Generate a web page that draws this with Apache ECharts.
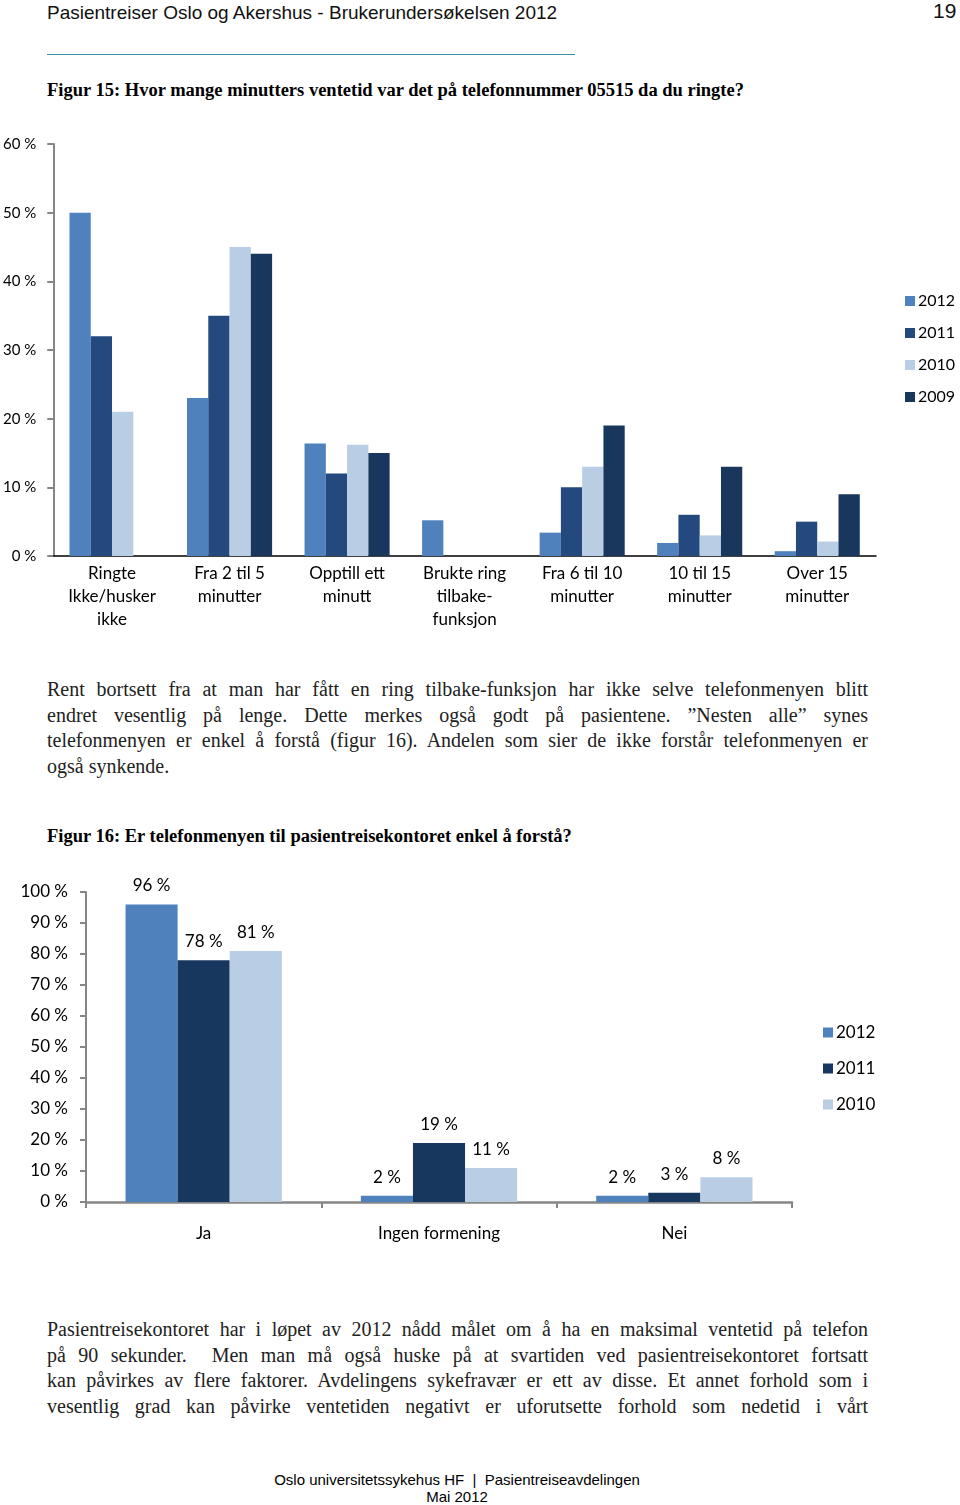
<!DOCTYPE html>
<html>
<head>
<meta charset="utf-8">
<script src="https://cdn.jsdelivr.net/npm/echarts@6/dist/echarts.min.js"></script>
<style>
  html, body { margin: 0; padding: 0; background: #fff; }
  body { width: 960px; height: 1505px; position: relative; overflow: hidden; }
  .abs { position: absolute; }
  .hdr { font-family: "Liberation Sans", Arial, sans-serif; font-size: 19px; color: #111; }
  .ftitle { font-family: "Liberation Serif", "Times New Roman", serif; font-weight: bold; font-size: 18.5px; color: #000; white-space: nowrap; }
  .para { font-family: "Liberation Serif", "Times New Roman", serif; font-size: 20px; color: #222; width: 821px; left: 47px; line-height: 25.5px; }
  .para div { text-align: justify; text-align-last: justify; white-space: nowrap; overflow: visible; }
  .para div.last { text-align-last: left; }
  .foot { font-family: "Liberation Sans", Arial, sans-serif; font-size: 15px; color: #000; text-align: center; width: 960px; left: -23px; }
</style>
</head>
<body>
<div class="abs hdr" style="left:47px; top:2px;">Pasientreiser Oslo og Akershus - Brukerundersøkelsen 2012</div>
<div class="abs hdr" style="left:933px; top:-1px; font-size:21px;">19</div>
<div class="abs" style="left:47px; top:54px; width:528px; height:1px; background:#3b8fa6;"></div>
<div class="abs ftitle" style="left:47px; top:80px;">Figur 15: Hvor mange minutters ventetid var det på telefonnummer 05515 da du ringte?</div>

<div id="c1" class="abs" style="left:0; top:130px; width:960px; height:510px;"></div>

<div class="abs para" style="top:677px;">
  <div>Rent bortsett fra at man har fått en ring tilbake-funksjon har ikke selve telefonmenyen blitt</div>
  <div>endret vesentlig på lenge. Dette merkes også godt på pasientene. ”Nesten alle” synes</div>
  <div>telefonmenyen er enkel å forstå (figur 16). Andelen som sier de ikke forstår telefonmenyen er</div>
  <div class="last">også synkende.</div>
</div>

<div class="abs ftitle" style="left:47px; top:826px;">Figur 16: Er telefonmenyen til pasientreisekontoret enkel å forstå?</div>

<div id="c2" class="abs" style="left:0; top:870px; width:960px; height:380px;"></div>

<div class="abs para" style="top:1317px;">
  <div>Pasientreisekontoret har i løpet av 2012 nådd målet om å ha en maksimal ventetid på telefon</div>
  <div>på 90 sekunder.&nbsp; Men man må også huske på at svartiden ved pasientreisekontoret fortsatt</div>
  <div>kan påvirkes av flere faktorer. Avdelingens sykefravær er ett av disse. Et annet forhold som i</div>
  <div>vesentlig grad kan påvirke ventetiden negativt er uforutsette forhold som nedetid i vårt</div>
</div>

<div class="abs foot" style="top:1471px;">Oslo universitetssykehus HF&nbsp; |&nbsp; Pasientreiseavdelingen</div>
<div class="abs foot" style="top:1488px;">Mai 2012</div>

<script>
// ---- Figure 15 data ----
var categories15 = ['Ringte\nIkke/husker\nikke', 'Fra 2 til 5\nminutter', 'Opptill ett\nminutt', 'Brukte ring\ntilbake-\nfunksjon', 'Fra 6 til 10\nminutter', '10 til 15\nminutter', 'Over 15\nminutter'];
var fig15_2012 = [50, 23, 16.4, 5.2, 3.4, 1.9, 0.7];
var fig15_2011 = [32, 35, 12, null, 10, 6, 5];
var fig15_2010 = [21, 45, 16.2, null, 13, 3, 2.1];
var fig15_2009 = [null, 44, 15, null, 19, 13, 9];
var ticks15 = ['0 %', '10 %', '20 %', '30 %', '40 %', '50 %', '60 %'];

// ---- Figure 16 data ----
var categories16 = ['Ja', 'Ingen formening', 'Nei'];
var fig16_2012 = [96, 2, 2];
var fig16_2011 = [78, 19, 3];
var fig16_2010 = [81, 11, 8];
var ticks16 = ['0 %', '10 %', '20 %', '30 %', '40 %', '50 %', '60 %', '70 %', '80 %', '90 %', '100 %'];

var FONT = 'Lato, "Open Sans", sans-serif';

var c1 = echarts.init(document.getElementById('c1'));
c1.setOption({
  animation: false,
  textStyle: { fontFamily: FONT },
  grid: { left: 51, right: 84, top: 14, bottom: 84, containLabel: false },
  legend: {
    orient: 'vertical', left: 905, top: 163, padding: 0,
    itemWidth: 10, itemHeight: 10, itemGap: 16,
    icon: 'rect',
    textStyle: { fontSize: 16, color: '#000', lineHeight: 16, fontFamily: FONT, padding: [0, 0, 0, -2] },
    data: ['2012', '2011', '2010', '2009']
  },
  xAxis: {
    type: 'category', data: categories15,
    axisLine: { lineStyle: { color: '#000', width: 1.5 } },
    axisTick: { show: false },
    axisLabel: { color: '#000', fontSize: 17, lineHeight: 23, margin: 6, interval: 0, fontFamily: FONT }
  },
  yAxis: {
    type: 'value', min: 0, max: 60, interval: 10,
    axisLine: { show: true, lineStyle: { color: '#868686', width: 2 } },
    axisTick: { show: true, length: 6, lineStyle: { color: '#868686', width: 2 } },
    splitLine: { show: false },
    axisLabel: { color: '#000', fontSize: 15, margin: 17, fontFamily: FONT,
      formatter: function (v) { return ticks15[Math.round(v / 10)]; } }
  },
  series: [
    { name: '2012', type: 'bar', data: fig15_2012, itemStyle: { color: '#4F81BD' }, barGap: '0%', barCategoryGap: '27.6%' },
    { name: '2011', type: 'bar', data: fig15_2011, itemStyle: { color: '#23497E' } },
    { name: '2010', type: 'bar', data: fig15_2010, itemStyle: { color: '#B9CDE5' } },
    { name: '2009', type: 'bar', data: fig15_2009, itemStyle: { color: '#19365D' } }
  ]
});

var c2 = echarts.init(document.getElementById('c2'));
var lbl = { show: true, position: 'top', distance: 10, color: '#000', fontSize: 17, fontFamily: FONT, formatter: '{c} %' };
c2.setOption({
  animation: false,
  textStyle: { fontFamily: FONT },
  grid: { left: 86, right: 168, top: 22, bottom: 48, containLabel: false },
  legend: {
    orient: 'vertical', left: 823, top: 154, padding: 0,
    itemWidth: 10, itemHeight: 10, itemGap: 19,
    icon: 'rect',
    textStyle: { fontSize: 17, color: '#000', lineHeight: 17, fontFamily: FONT, padding: [0, 0, 0, -2] },
    data: ['2012', '2011', '2010']
  },
  xAxis: {
    type: 'category', data: categories16,
    axisLine: { lineStyle: { color: '#868686', width: 2.5 } },
    axisTick: { show: true, length: 6, lineStyle: { color: '#868686', width: 2 } },
    axisLabel: { color: '#000', fontSize: 17, margin: 23, interval: 0, fontFamily: FONT }
  },
  yAxis: {
    type: 'value', min: 0, max: 100, interval: 10,
    axisLine: { show: true, lineStyle: { color: '#868686', width: 2 } },
    axisTick: { show: true, length: 6, lineStyle: { color: '#868686', width: 2 } },
    splitLine: { show: false },
    axisLabel: { color: '#000', fontSize: 17, margin: 18, fontFamily: FONT,
      formatter: function (v) { return ticks16[Math.round(v / 10)]; } }
  },
  series: [
    { name: '2012', type: 'bar', data: fig16_2012, itemStyle: { color: '#4F81BD' }, barGap: '0%', barCategoryGap: '33.6%', label: lbl },
    { name: '2011', type: 'bar', data: fig16_2011, itemStyle: { color: '#17375E' }, label: lbl },
    { name: '2010', type: 'bar', data: fig16_2010, itemStyle: { color: '#B9CDE5' }, label: lbl }
  ]
});
</script>
</body>
</html>
